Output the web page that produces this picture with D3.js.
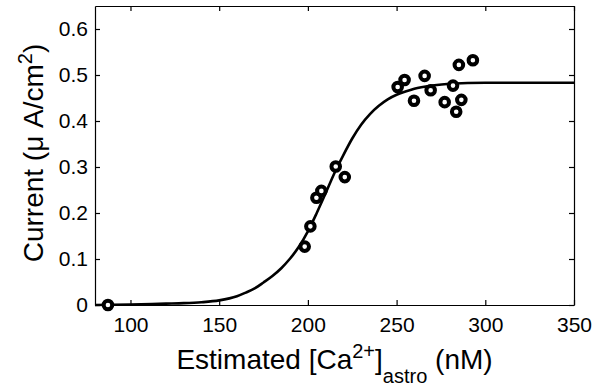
<!DOCTYPE html>
<html>
<head>
<meta charset="utf-8">
<script src="https://cdn.jsdelivr.net/npm/d3@7"></script>
<style>
	body { margin: 0; background: #fff; }
	svg { display: block; font-family: "Liberation Sans", Arial, Helvetica, sans-serif; }
	.axis text { font-size: 21px; fill: #000; }
	.axis path, .axis line { stroke: #000; stroke-width: 1.2; }
</style>
</head>
<body>
<div id="chart"></div>
<script>
// measured points
const pointsX = [87.3, 198.2, 201.4, 204.8, 207.6, 215.7, 220.8, 250.6, 254.5, 259.8, 265.8, 269.2, 277.1, 281.8, 283.6, 286.5, 285.1, 293.0];
const pointsY = [0, 0.127, 0.171, 0.233, 0.248, 0.301, 0.278, 0.474, 0.489, 0.444, 0.498, 0.467, 0.441, 0.477, 0.420, 0.446, 0.522, 0.532];

// fitted curve
const curveX = [80, 100, 120, 130, 140, 150, 160, 165, 170, 175, 180, 185, 190, 195, 200, 205, 210, 215, 220, 225, 230, 235, 240, 245, 250, 255, 260, 270, 280, 300, 350];
const curveY = [0.000, 0.001, 0.003, 0.004, 0.006, 0.010, 0.019, 0.027, 0.036, 0.049, 0.063, 0.080, 0.101, 0.127, 0.160, 0.200, 0.243, 0.287, 0.326, 0.362, 0.392, 0.415, 0.433, 0.447, 0.457, 0.464, 0.470, 0.477, 0.481, 0.483, 0.483];

const xTicks = [100, 150, 200, 250, 300, 350];
const yTicks = [0, 0.1, 0.2, 0.3, 0.4, 0.5, 0.6];

const width = 593, height = 387;
const margin = { top: 6, right: 19, bottom: 82, left: 95 };

const svg = d3.select("#chart").append("svg")
	.attr("width", width)
	.attr("height", height);

const x = d3.scaleLinear().domain([80, 350]).range([margin.left, width - margin.right]);
const y = d3.scaleLinear().domain([0, 0.65]).range([height - margin.bottom, margin.top]);

// axes (ticks point inward, box all round)
svg.append("g").attr("class", "axis")
	.attr("transform", "translate(0," + y(0) + ")")
	.call(d3.axisBottom(x).tickValues(xTicks).tickSizeInner(-5).tickSizeOuter(0).tickPadding(12));
svg.append("g").attr("class", "axis")
	.attr("transform", "translate(0," + y(0.65) + ")")
	.call(d3.axisTop(x).tickValues(xTicks).tickSizeInner(-5).tickSizeOuter(0).tickFormat(""));
svg.append("g").attr("class", "axis")
	.attr("transform", "translate(" + x(80) + ",0)")
	.call(d3.axisLeft(y).tickValues(yTicks).tickSizeInner(-5).tickSizeOuter(0).tickPadding(7)
		.tickFormat(d => d === 0 ? "0" : d3.format(".1f")(d)));
svg.append("g").attr("class", "axis")
	.attr("transform", "translate(" + x(350) + ",0)")
	.call(d3.axisRight(y).tickValues(yTicks).tickSizeInner(-5).tickSizeOuter(0).tickFormat(""));

// fit line
const curvePts = curveX.map((v, i) => [v, curveY[i]]);
svg.append("path")
	.datum(curvePts)
	.attr("d", d3.line().x(d => x(d[0])).y(d => y(d[1])).curve(d3.curveMonotoneX))
	.attr("fill", "none")
	.attr("stroke", "#000")
	.attr("stroke-width", 2.6);

// data markers
svg.append("g").selectAll("circle")
	.data(pointsX.map((v, i) => [v, pointsY[i]]))
	.join("circle")
	.attr("cx", d => x(d[0]))
	.attr("cy", d => y(d[1]))
	.attr("r", 4.3)
	.attr("fill", "#fff")
	.attr("stroke", "#000")
	.attr("stroke-width", 4);

// x label
const xl = svg.append("text")
	.attr("x", (x(80) + x(350)) / 2)
	.attr("y", 369)
	.attr("text-anchor", "middle")
	.attr("font-size", 28);
xl.append("tspan").text("Estimated [Ca");
xl.append("tspan").attr("font-size", 20).attr("dy", -11).text("2+");
xl.append("tspan").attr("dy", 11).text("]");
xl.append("tspan").attr("font-size", 20).attr("dy", 14).text("astro");
xl.append("tspan").attr("dy", -14).text(" (nM)");

// y label
const yl = svg.append("text")
	.attr("transform", "translate(43,153) rotate(-90)")
	.attr("text-anchor", "middle")
	.attr("font-size", 28);
yl.append("tspan").text("Current (\u03bc A/cm");
yl.append("tspan").attr("font-size", 20).attr("dy", -11).text("2");
yl.append("tspan").attr("dy", 11).text(")");
</script>
</body>
</html>
